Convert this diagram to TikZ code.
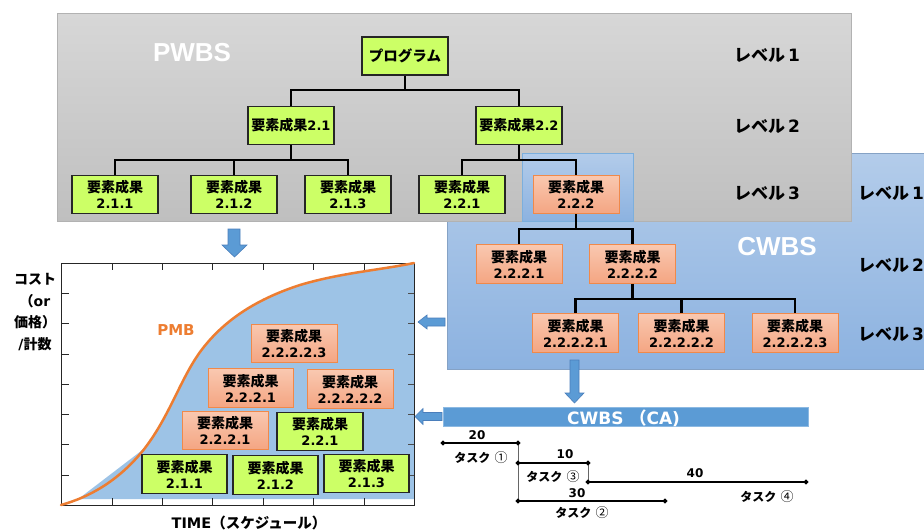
\documentclass[tikz,border=0pt]{standalone}
\usepackage{fontspec}
\setmainfont{DejaVu Sans}
\newfontfamily\jp{Noto Sans CJK JP}
\newfontfamily\arialf{Liberation Sans}
\usetikzlibrary{shapes.geometric,calc}
\definecolor{grn}{HTML}{CCFF66}
\definecolor{orgT}{HTML}{F9C8B0}
\definecolor{orgB}{HTML}{F4A582}
\definecolor{orgE}{HTML}{F0894A}
\definecolor{bluA}{HTML}{5B9BD5}
\definecolor{bluE}{HTML}{4A7EBB}
\definecolor{area}{HTML}{9DC3E6}
\definecolor{pmb}{HTML}{ED7D31}
\definecolor{grayT}{HTML}{D7D7D7}
\definecolor{grayB}{HTML}{BFBFBF}
\definecolor{cwT}{HTML}{B3CCEA}
\definecolor{cwB}{HTML}{8CB2E0}
\newcommand\yoso{{\jp\fontsize{14}{16}\selectfont 要素成果}}
\tikzset{
  wbox/.style={minimum width=86pt, minimum height=38.5pt, inner sep=0pt, align=center,
    font=\bfseries\fontsize{13}{16}\selectfont},
  gbox/.style={wbox, fill=grn, draw=black!85, line width=1.1pt},
  obox/.style={wbox, top color=orgT, bottom color=orgB, draw=orgE, line width=1pt},
  conn/.style={line width=2.8pt, black},
  lvl/.style={font=\bfseries\fontsize{17}{17}\selectfont, anchor=west, inner sep=0pt},
  barrow/.style={fill=bluA, draw=bluE, line width=0.6pt},
  tline/.style={line width=1.6pt, black},
  vline/.style={line width=0.8pt, black!60},
  tmark/.style={diamond, fill=black, inner sep=0pt, minimum size=5.5pt},
  tlab/.style={font=\bfseries\fontsize{12}{12}\selectfont, inner sep=0pt},
  bigw/.style={font=\arialf\bfseries\fontsize{26}{26}\selectfont, text=white, inner sep=0pt}
}
\begin{document}
\begin{tikzpicture}[x=1pt,y=-1pt]
\useasboundingbox (0,0) rectangle (924,530);
\clip (0,0) rectangle (924,530);
\fill[white] (0,0) rectangle (924,530);

% CWBS region (behind PWBS)
\path[top color=cwT, bottom color=cwB, draw=cwB!85!black!90, line width=0.8pt] (447,153) rectangle (940,369);
% PWBS region
\path[top color=grayT, bottom color=grayB, draw=black!30, line width=0.8pt] (57,13) rectangle (851,221);
% highlight round 2.2.2
\path[top color=cwT, bottom color=cwB, draw=bluA!80, line width=0.8pt] (522,153) rectangle (633,221);

\node[bigw] (pwbs) at (192,53) {PWBS};
\node[bigw] (cwbs) at (777,247) {CWBS};

% levels
\node[lvl] (l1) at (734,55) {{\jp レベル}\,1};
\node[lvl] (l2) at (734,126) {{\jp レベル}\,2};
\node[lvl] (l3) at (734,193) {{\jp レベル}\,3};
\node[lvl] (r1) at (858,193) {{\jp レベル}\,1};
\node[lvl] (r2) at (858,265) {{\jp レベル}\,2};
\node[lvl] (r3) at (858,334) {{\jp レベル}\,3};

% PWBS tree
\node[gbox, minimum height=38pt] (prog) at (405,56) {{\jp\fontsize{14.5}{16}\selectfont プログラム}};
\node[gbox] (p21) at (291,125.5) {\yoso 2.1};
\node[gbox] (p22) at (519,125.5) {\yoso 2.2};
\node[gbox] (p211) at (115,194.5) {\yoso\\2.1.1};
\node[gbox] (p212) at (234,194.5) {\yoso\\2.1.2};
\node[gbox] (p213) at (348,194.5) {\yoso\\2.1.3};
\node[gbox] (p221) at (462,194.5) {\yoso\\2.2.1};
\node[obox] (p222) at (576,194.5) {\yoso\\2.2.2};

% CWBS tree
\node[obox] (c1) at (519,264) {\yoso\\2.2.2.1};
\node[obox] (c2) at (632.5,264) {\yoso\\2.2.2.2};
\node[obox, minimum height=39.5pt] (c21) at (575.5,333) {\yoso\\2.2.2.2.1};
\node[obox, minimum height=39.5pt] (c22) at (681.5,333) {\yoso\\2.2.2.2.2};
\node[obox, minimum height=39.5pt] (c23) at (795,333) {\yoso\\2.2.2.2.3};

\coordinate (j1) at (405,90);
\coordinate (j2) at (291,160);
\coordinate (j3) at (519,160);
\coordinate (j4) at (576,229);
\coordinate (j5) at (632.5,299);
\draw[conn] (prog.south) -- (j1);
\draw[conn] (p21.north) |- (j1) -| (p22.north);
\draw[conn] (p21.south) -- (j2);
\draw[conn] (p211.north) |- (j2) -| (p213.north);
\draw[conn] (p212.north) -- (p212.north |- j2);
\draw[conn] (p22.south) -- (j3);
\draw[conn] (p221.north) |- (j3) -| (p222.north);
\draw[conn] (p222.south) -- (j4);
\draw[conn] (c1.north) |- (j4) -| (c2.north);
\draw[conn] (c2.south) -- (j5);
\draw[conn] (c21.north) |- (j5) -| (c23.north);
\draw[conn] (c22.north) -- (c22.north |- j5);

% chart area
\fill[area] (77,500) -- (145,448)
  .. controls (170,415) and (180,380) .. (200,352)
  .. controls (225,318) and (260,298) .. (300,285)
  .. controls (340,273) and (380,270) .. (414,263)
  -- (414,499) -- (80,499) -- cycle;
\draw[line width=1pt, black!85] (61,263) rectangle (414,505);
\foreach \yy in {293,323,354,384,414,444,475} {
  \draw[line width=0.9pt, black!85] (61,\yy) -- (69,\yy);
  \draw[line width=0.9pt, black!70] (414,\yy) -- (408,\yy);
}
\foreach \xx in {112,162,212,263,313,364} {
  \draw[line width=0.9pt, black!85] (\xx,263) -- (\xx,270);
  \draw[line width=0.9pt, black!85] (\xx,505) -- (\xx,498);
}
\draw[pmb, line width=2.5pt, line cap=round] (61,505)
  .. controls (90,497) and (120,480) .. (145,448)
  .. controls (170,415) and (180,380) .. (200,352)
  .. controls (225,318) and (260,298) .. (300,285)
  .. controls (340,273) and (380,270) .. (414,263);
\node[font=\bfseries\fontsize{15}{15}\selectfont, text=pmb, inner sep=0pt] (pmbl) at (176,330) {PMB};

\node[align=center, font=\bfseries\fontsize{14}{21.5}\selectfont, inner sep=0pt] (ylab) at (35,312)
  {{\jp コスト}\\{\jp （}or\\{\jp 価格）}\\/{\jp 計数}};
\node[font=\bfseries\fontsize{14.5}{15}\selectfont, inner sep=0pt, anchor=base] (xlab) at (249,528)
  {TIME{\jp （スケジュール）}};

% chart boxes
\node[obox] (k1) at (294,343.5) {\yoso\\2.2.2.2.3};
\node[obox, minimum width=85pt] (k2) at (250.5,388) {\yoso\\2.2.2.1};
\node[obox] (k3) at (350,389) {\yoso\\2.2.2.2.2};
\node[obox] (k4) at (225,430.5) {\yoso\\2.2.2.1};
\node[gbox] (k5) at (320,431.5) {\yoso\\2.2.1};
\node[gbox, minimum width=85pt] (k6) at (184.5,474) {\yoso\\2.1.1};
\node[gbox, minimum width=85pt] (k7) at (275.5,475) {\yoso\\2.1.2};
\node[gbox, minimum width=85pt] (k8) at (366.5,473.5) {\yoso\\2.1.3};

% block arrows
\draw[barrow] (228,229) -- (240,229) -- (240,245) -- (247,245) -- (234.5,257) -- (222,245) -- (228,245) -- cycle;
\draw[barrow] (445,318) -- (427,318) -- (427,315) -- (418,322) -- (427,329) -- (427,326) -- (445,326) -- cycle;
\draw[barrow] (442,412.5) -- (423,412.5) -- (423,408.5) -- (415,416.5) -- (423,424.5) -- (423,420.5) -- (442,420.5) -- cycle;
\draw[barrow] (570,360) -- (579,360) -- (579,393) -- (584,393) -- (574.5,403) -- (565,393) -- (570,393) -- cycle;

% CA bar
\draw[fill=bluA, draw=bluA!70!white, line width=0.8pt] (443,407) rectangle (808,426);
\node[font=\bfseries\fontsize{17}{17}\selectfont, text=white, inner sep=0pt, anchor=base west] (ca) at (567,424)
  {CWBS\ {\jp （}CA)};

% tasks
\coordinate (a1) at (443,443); \coordinate (a2) at (518,443);
\coordinate (b1) at (518,463); \coordinate (b2) at (588,463);
\coordinate (c1p) at (588,482); \coordinate (c2p) at (806,482);
\coordinate (d1) at (518,501); \coordinate (d2) at (665,501);
\draw[vline] (a2) -- (d1);
\draw[vline] (b2) -- (c1p);
\draw[tline] (a1) -- (a2);
\draw[tline] (b1) -- (b2);
\draw[tline] (c1p) -- (c2p);
\draw[tline] (d1) -- (d2);
\foreach \p in {a1,a2,b1,b2,c1p,c2p,d1,d2} \node[tmark] (m\p) at (\p) {};
\node[tlab] (n20) at (477,435) {20};
\node[tlab] (t1) at (481,458) {{\jp タスク}\ {\jp\mdseries\fontsize{13}{13}\selectfont ①}};
\node[tlab] (n10) at (565,454) {10};
\node[tlab] (t3) at (553,477) {{\jp タスク}\ {\jp\mdseries\fontsize{13}{13}\selectfont ③}};
\node[tlab] (n40) at (695,473) {40};
\node[tlab] (t4) at (767,497) {{\jp タスク}\ {\jp\mdseries\fontsize{13}{13}\selectfont ④}};
\node[tlab] (n30) at (577,493) {30};
\node[tlab] (t2) at (582,513) {{\jp タスク}\ {\jp\mdseries\fontsize{13}{13}\selectfont ②}};
\end{tikzpicture}
\end{document}
